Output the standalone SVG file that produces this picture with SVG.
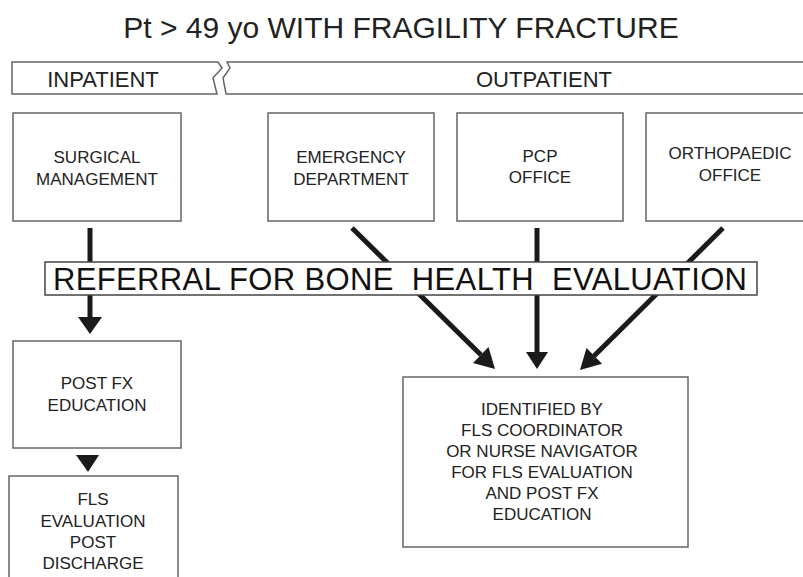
<svg xmlns="http://www.w3.org/2000/svg" width="803" height="577" viewBox="0 0 803 577">
<style>
.box{fill:#fff;stroke:#666;stroke-width:1.5}
.t{font-family:"Liberation Sans",Arial,sans-serif;fill:#222;text-anchor:middle}
.s17{font-size:17px}
.hdr{font-size:22px}
.arr{stroke:#1a1a1a;stroke-width:5;fill:none}
.head{fill:#1a1a1a}
</style>
<rect width="803" height="577" fill="#fff"/>
<text class="t" x="401" y="38" font-size="30">Pt &gt; 49 yo WITH FRAGILITY FRACTURE</text>

<g id="header">
<path class="box" d="M217,94 L12,94 L12,62 L218,62 L222,68 L213,78 Z"/>
<path class="box" d="M810,62 L227,62 L230,68 L223,78 L226,94 L810,94"/>
<text class="t hdr" x="103" y="87">INPATIENT</text>
<text class="t hdr" x="544" y="87">OUTPATIENT</text>
</g>

<g id="surgical">
<rect class="box" x="13" y="113" width="168" height="108"/>
<text class="t s17" x="97" y="163">SURGICAL</text>
<text class="t s17" x="97" y="185">MANAGEMENT</text>
</g>
<g id="emergency">
<rect class="box" x="268" y="113" width="166" height="108"/>
<text class="t s17" x="351" y="163">EMERGENCY</text>
<text class="t s17" x="351" y="185">DEPARTMENT</text>
</g>
<g id="pcp">
<rect class="box" x="457" y="113" width="166" height="108"/>
<text class="t s17" x="540" y="162">PCP</text>
<text class="t s17" x="540" y="183">OFFICE</text>
</g>
<g id="ortho">
<rect class="box" x="646" y="113" width="170" height="108"/>
<text class="t s17" x="730" y="159">ORTHOPAEDIC</text>
<text class="t s17" x="730" y="181">OFFICE</text>
</g>

<g id="connectors">
<line class="arr" x1="90" y1="228" x2="90" y2="318"/>
<polygon class="head" points="78,317 102,317 90,334"/>
<line class="arr" x1="352" y1="228" x2="481" y2="355"/>
<polygon class="head" points="473,363 488.5,347 495,369"/>
<line class="arr" x1="537" y1="228" x2="537" y2="353"/>
<polygon class="head" points="526,352 548,352 537,369"/>
<line class="arr" x1="723" y1="228" x2="594" y2="356"/>
<polygon class="head" points="602,363.7 586.5,348 580,370"/>
<polygon class="head" points="76,455 99,455 88,472"/>
</g>

<g id="referral">
<rect x="45" y="262" width="712" height="33" fill="#fff" stroke="#444" stroke-width="1.5"/>
<text x="53" y="290" xml:space="preserve" style="white-space:pre" textLength="694" lengthAdjust="spacing" font-family="Liberation Sans,Arial,sans-serif" font-size="31" fill="#111">REFERRAL FOR BONE  HEALTH  EVALUATION</text>
</g>

<g id="postfx">
<rect class="box" x="13" y="341" width="168" height="107"/>
<text class="t s17" x="97" y="389">POST FX</text>
<text class="t s17" x="97" y="411">EDUCATION</text>
</g>
<g id="fls">
<rect class="box" x="9" y="476" width="169" height="120"/>
<text class="t s17" x="93" y="505">FLS</text>
<text class="t s17" x="93" y="527">EVALUATION</text>
<text class="t s17" x="93" y="548">POST</text>
<text class="t s17" x="93" y="569">DISCHARGE</text>
</g>
<g id="identified">
<rect class="box" x="403" y="377" width="285" height="170"/>
<text class="t s17" x="542" y="415">IDENTIFIED BY</text>
<text class="t s17" x="542" y="436">FLS COORDINATOR</text>
<text class="t s17" x="542" y="457">OR NURSE NAVIGATOR</text>
<text class="t s17" x="542" y="478">FOR FLS EVALUATION</text>
<text class="t s17" x="542" y="499">AND POST FX</text>
<text class="t s17" x="542" y="520">EDUCATION</text>
</g>
</svg>
